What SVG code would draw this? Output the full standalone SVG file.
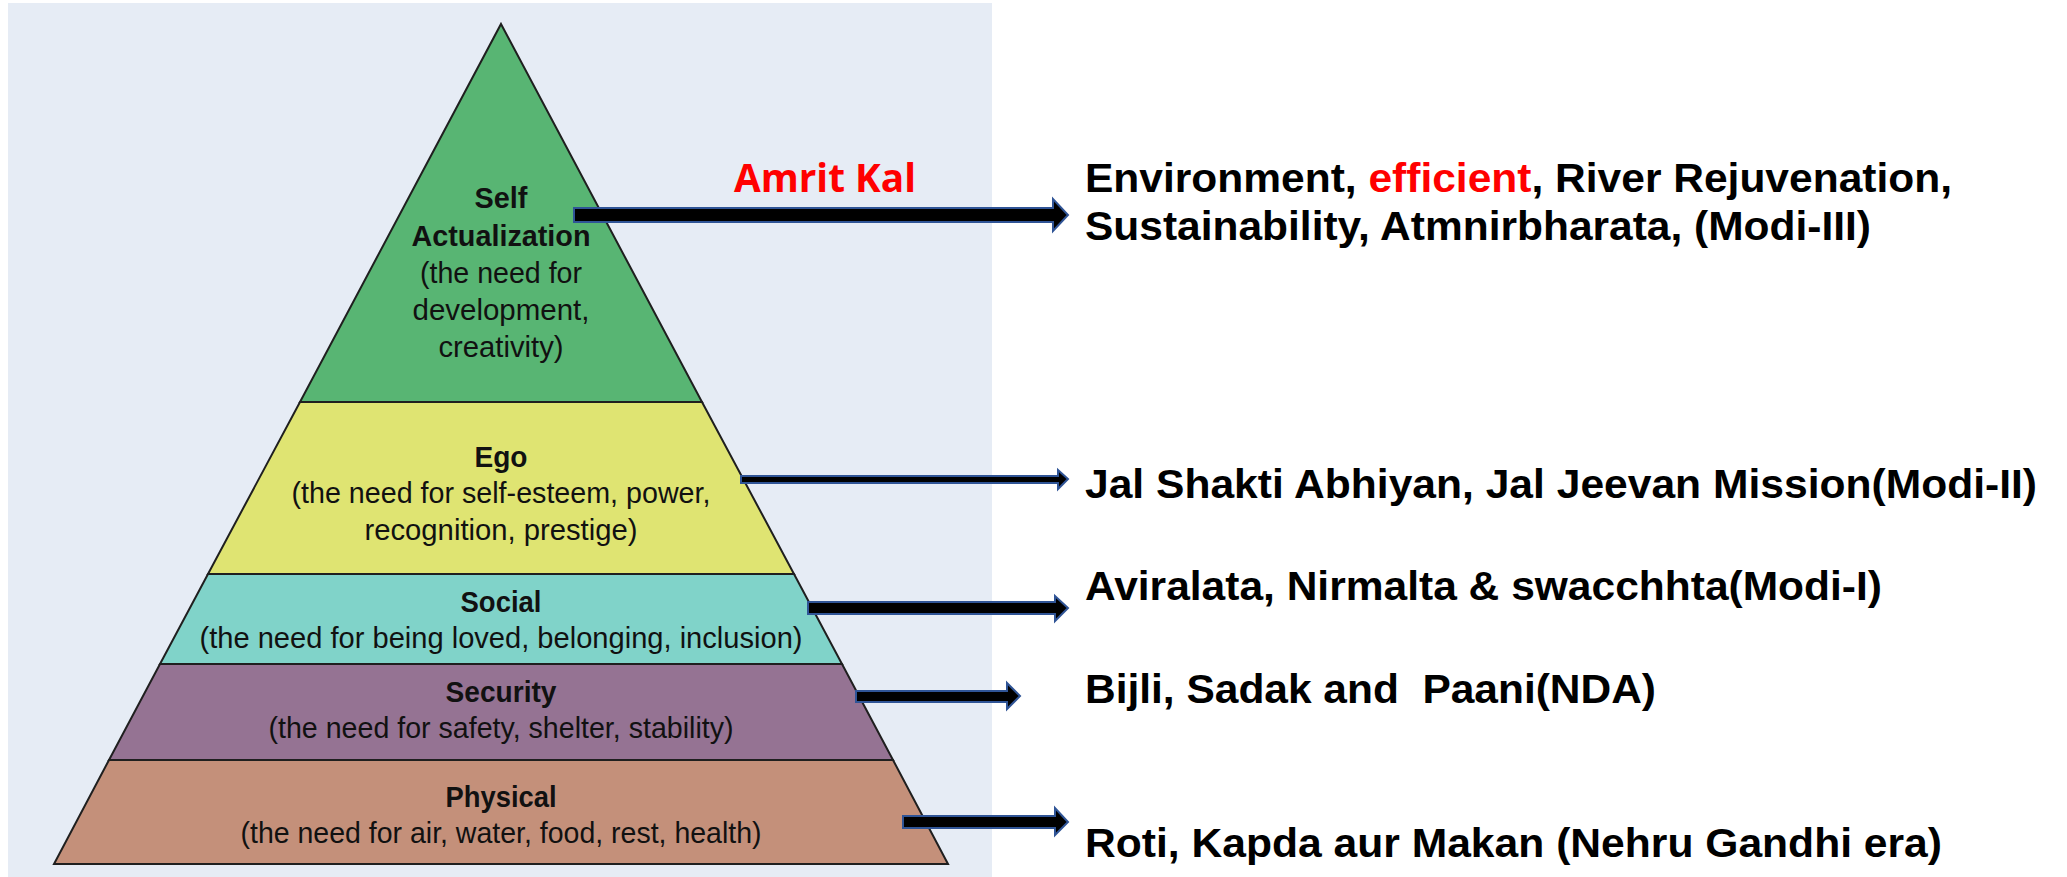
<svg xmlns="http://www.w3.org/2000/svg" width="2067" height="877" viewBox="0 0 2067 877">
  <style>
    .tier { stroke: #1f1f1f; stroke-width: 2; stroke-linejoin: miter; }
    .ttl { font-family: "Liberation Sans", Arial, sans-serif; font-weight: 700; font-size: 29px; fill: #111; text-anchor: middle; }
    .sub { font-family: "Liberation Sans", Arial, sans-serif; font-weight: 400; font-size: 29px; fill: #111; text-anchor: middle; }
    .arrow { fill: #000; stroke: #2f5496; stroke-width: 2; stroke-linejoin: miter; }
    .lbl { font-family: "Liberation Sans", Arial, sans-serif; font-weight: 700; font-size: 41px; fill: #000; }
    .red { fill: #ff0000; }
    .era { font-family: "Open Sans", "Liberation Sans", sans-serif; font-weight: 700; font-size: 40px; fill: #ff0000; }
  </style>

  <rect width="2067" height="877" fill="#ffffff"/>
  <!-- light panel behind the pyramid -->
  <rect x="8" y="3" width="984" height="874" fill="#e6ecf5"/>

  <g id="tier-self">
    <polygon class="tier" fill="#58b573" points="501,24 702,402 300,402"/>
    <text class="ttl" x="501" y="208" textLength="53" lengthAdjust="spacingAndGlyphs">Self</text>
    <text class="ttl" x="501" y="246" textLength="179" lengthAdjust="spacingAndGlyphs">Actualization</text>
    <text class="sub" x="501" y="283" textLength="162" lengthAdjust="spacingAndGlyphs">(the need for</text>
    <text class="sub" x="501" y="320" textLength="177" lengthAdjust="spacingAndGlyphs">development,</text>
    <text class="sub" x="501" y="357" textLength="125" lengthAdjust="spacingAndGlyphs">creativity)</text>
  </g>

  <g id="tier-ego">
    <polygon class="tier" fill="#dfe472" points="300,402 702,402 794,574 208,574"/>
    <text class="ttl" x="501" y="467" textLength="53" lengthAdjust="spacingAndGlyphs">Ego</text>
    <text class="sub" x="501" y="503" textLength="419" lengthAdjust="spacingAndGlyphs">(the need for self-esteem, power,</text>
    <text class="sub" x="501" y="540" textLength="273" lengthAdjust="spacingAndGlyphs">recognition, prestige)</text>
  </g>

  <g id="tier-social">
    <polygon class="tier" fill="#80d3c9" points="208,574 794,574 842,664 160,664"/>
    <text class="ttl" x="501" y="612" textLength="81" lengthAdjust="spacingAndGlyphs">Social</text>
    <text class="sub" x="501" y="648" textLength="603" lengthAdjust="spacingAndGlyphs">(the need for being loved, belonging, inclusion)</text>
  </g>

  <g id="tier-security">
    <polygon class="tier" fill="#957393" points="160,664 842,664 893,760 109,760"/>
    <text class="ttl" x="501" y="702" textLength="111" lengthAdjust="spacingAndGlyphs">Security</text>
    <text class="sub" x="501" y="738" textLength="465" lengthAdjust="spacingAndGlyphs">(the need for safety, shelter, stability)</text>
  </g>

  <g id="tier-physical">
    <polygon class="tier" fill="#c4907a" points="109,760 893,760 948,864 54,864"/>
    <text class="ttl" x="501" y="807" textLength="111" lengthAdjust="spacingAndGlyphs">Physical</text>
    <text class="sub" x="501" y="843" textLength="521" lengthAdjust="spacingAndGlyphs">(the need for air, water, food, rest, health)</text>
  </g>

  <g id="connectors">
    <path class="arrow" d="M574,208 H1053 V199 L1068,215 L1053,231 V222 H574 Z"/>
    <path class="arrow" d="M741,476 H1058 V470 L1068,479 L1058,489 V483 H741 Z"/>
    <path class="arrow" d="M808,602 H1055 V596 L1068,608 L1055,621 V614 H808 Z"/>
    <path class="arrow" d="M856,691 H1007 V683 L1020,696 L1007,709 V702 H856 Z"/>
    <path class="arrow" d="M903,816 H1055 V808 L1068,822 L1055,835 V828 H903 Z"/>
  </g>

  <g id="label-amrit-kal">
    <text class="era" x="734" y="192" textLength="182" lengthAdjust="spacingAndGlyphs">Amrit Kal</text>
  </g>

  <g id="label-modi-3">
    <text class="lbl" x="1085" y="192" textLength="867" lengthAdjust="spacingAndGlyphs">Environment, <tspan class="red">efficient</tspan>, River Rejuvenation,</text>
    <text class="lbl" x="1085" y="240" textLength="786" lengthAdjust="spacingAndGlyphs">Sustainability, Atmnirbharata, (Modi-III)</text>
  </g>

  <g id="label-modi-2">
    <text class="lbl" x="1085" y="498" textLength="952" lengthAdjust="spacingAndGlyphs">Jal Shakti Abhiyan, Jal Jeevan Mission(Modi-II)</text>
  </g>

  <g id="label-modi-1">
    <text class="lbl" x="1085" y="600" textLength="797" lengthAdjust="spacingAndGlyphs">Aviralata, Nirmalta &amp; swacchhta(Modi-I)</text>
  </g>

  <g id="label-nda">
    <text class="lbl" x="1085" y="703" xml:space="preserve" textLength="571" lengthAdjust="spacingAndGlyphs">Bijli, Sadak and  Paani(NDA)</text>
  </g>

  <g id="label-nehru">
    <text class="lbl" x="1085" y="857" textLength="857" lengthAdjust="spacingAndGlyphs">Roti, Kapda aur Makan (Nehru Gandhi era)</text>
  </g>
</svg>
